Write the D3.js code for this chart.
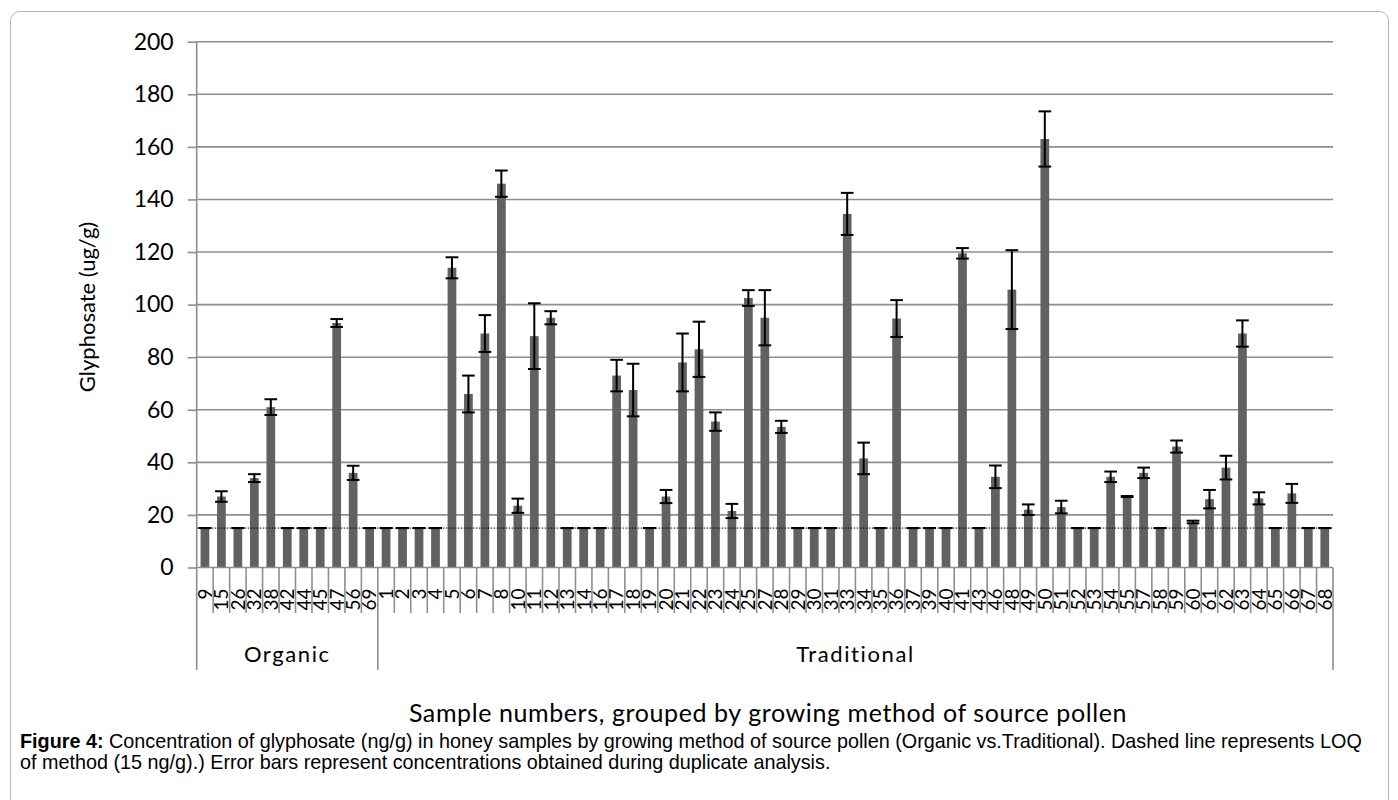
<!DOCTYPE html>
<html><head><meta charset="utf-8">
<script src="https://cdn.jsdelivr.net/npm/d3@7"></script>
<style>body{margin:0;background:#fff}</style>
</head><body>
<svg id="c" width="1398" height="800"></svg>
<script>
// ---- data ----
const groupNames = ["Organic", "Traditional"];
const organicSamples = ["9","15","26","32","38","42","44","45","47","56","69"];
const organicValues  = [15, 27, 15, 34, 61, 15, 15, 15, 93, 36, 15];
const organicErrors  = [0, 2, 0, 1.5, 3, 0, 0, 0, 1.5, 2.7, 0];
const traditionalSamples = ["1","2","3","4","5","6","7","8","10","11","12","13","14","16","17","18","19","20","21","22","23","24","25","27","28","29","30","31","33","34","35","36","37","39","40","41","43","46","48","49","50","51","52","53","54","55","57","58","59","60","61","62","63","64","65","66","67","68"];
const traditionalValues = [15,15,15,15,114,66,89,146,23.5,88,95,15,15,15,73,67.5,15,27,78,83,55.5,21.5,102.5,95,53.5,15,15,15,134.5,41.5,15,94.7,15,15,15,119.5,15,34.5,105.7,22,163,23,15,15,34.5,27,36,15,46,17.3,26,38,89,26.3,15,28.2,15,15];
const traditionalErrors = [0,0,0,0,4,7,7,5,2.7,12.5,2.5,0,0,0,6,10,0,2.5,11,10.5,3.5,2.7,3,10.5,2.3,0,0,0,8,6,0,7,0,0,0,2,0,4.3,15,2,10.5,2.4,0,0,2,0.2,2,0,2.3,0.5,3.5,4.5,5,2.3,0,3.6,0,0];
const yTicks = [0,20,40,60,80,100,120,140,160,180,200];
const loq = 15;
const yTitle = "Glyphosate (ug/g)";
const xTitle = "Sample numbers, grouped by growing method of source pollen";
const captionBold = "Figure 4:";
const captionLine1 = " Concentration of glyphosate (ng/g) in honey samples by growing method of source pollen (Organic vs.Traditional). Dashed line represents LOQ";
const captionLine2 = "of method (15 ng/g).) Error bars represent concentrations obtained during duplicate analysis.";

// ---- build table ----
const groups = [
  {name: groupNames[0], samples: organicSamples, values: organicValues, errors: organicErrors},
  {name: groupNames[1], samples: traditionalSamples, values: traditionalValues, errors: traditionalErrors}
];
const rows = [];
groups.forEach(g => g.samples.forEach((s, i) => rows.push({key: g.name + "-" + s, label: s, group: g.name, value: g.values[i], err: g.errors[i]})));

const svg = d3.select("#c");
const pLeft = 196.7, pRight = 1333, pTop = 41.7, pBottom = 567.5;
const font = "Lato, 'Open Sans', sans-serif";
const grid = "#8e8e8e";

// frame
svg.append("rect").attr("x", 10.5).attr("y", 11.5).attr("width", 1378).attr("height", 820)
  .attr("rx", 9).attr("fill", "none").attr("stroke", "#b4b4b4").attr("stroke-width", 1);

const x = d3.scaleBand().domain(rows.map(d => d.key)).range([pLeft, pRight]).paddingInner(0.47).paddingOuter(0.235);
const y = d3.scaleLinear().domain([0, 200]).range([pBottom, pTop]);

// gridlines
svg.append("g").selectAll("line").data(yTicks.filter(t => t > 0)).join("line")
  .attr("x1", pLeft).attr("x2", pRight).attr("y1", d => y(d)).attr("y2", d => y(d))
  .attr("stroke", grid).attr("stroke-width", 1.6);

// y axis
const yAxis = svg.append("g").attr("transform", `translate(${pLeft},0)`)
  .call(d3.axisLeft(y).tickValues(yTicks).tickSize(9).tickPadding(14));
yAxis.select(".domain").remove();
yAxis.selectAll(".tick line").attr("stroke", grid).attr("stroke-width", 1.6);
yAxis.selectAll(".tick text").attr("font-family", font).attr("font-size", 23).attr("fill", "#000");

// bars
svg.append("g").selectAll("rect").data(rows).join("rect")
  .attr("x", d => x(d.key)).attr("width", x.bandwidth())
  .attr("y", d => y(d.value)).attr("height", d => y(0) - y(d.value))
  .attr("fill", "#616161");

// LOQ dotted line
svg.append("line").attr("x1", pLeft).attr("x2", pRight).attr("y1", y(loq)).attr("y2", y(loq))
  .attr("stroke", "#000").attr("stroke-width", 1).attr("stroke-dasharray", "1.5,1.5");

// error bars
const eb = svg.append("g").attr("stroke", "#000").attr("stroke-width", 2);
const capW = 12.7;
rows.forEach(d => {
  const cx = x(d.key) + x.bandwidth() / 2;
  const y1 = y(d.value + d.err), y2 = y(d.value - d.err);
  if (d.err > 0) eb.append("line").attr("x1", cx).attr("x2", cx).attr("y1", y1).attr("y2", y2);
  eb.append("line").attr("x1", cx - capW / 2).attr("x2", cx + capW / 2).attr("y1", y1).attr("y2", y1);
  eb.append("line").attr("x1", cx - capW / 2).attr("x2", cx + capW / 2).attr("y1", y2).attr("y2", y2);
});

// x axis labels
const xAxis = svg.append("g").attr("transform", `translate(0,${pBottom})`)
  .call(d3.axisBottom(x).tickSize(0).tickFormat(k => rows.find(r => r.key === k).label));
xAxis.select(".domain").remove();
xAxis.selectAll(".tick text")
  .attr("font-family", font).attr("font-size", 19).attr("fill", "#000")
  .attr("text-anchor", "end").attr("transform", "translate(0,21) rotate(-90)")
  .attr("x", 0).attr("y", 0).attr("dy", "0.36em");

// baseline axis line
svg.append("line").attr("x1", pLeft).attr("x2", pRight).attr("y1", pBottom).attr("y2", pBottom)
  .attr("stroke", grid).attr("stroke-width", 1.6);
// left axis line
svg.append("line").attr("x1", pLeft).attr("x2", pLeft).attr("y1", pTop).attr("y2", 670)
  .attr("stroke", grid).attr("stroke-width", 1.6);

// category separators
const step = x.step();
const idx = d3.range(1, rows.length);
const groupBounds = [];
let acc = 0;
groups.forEach(g => { acc += g.samples.length; groupBounds.push(acc); });
svg.append("g").selectAll("line").data(idx.filter(i => !groupBounds.includes(i))).join("line")
  .attr("x1", i => pLeft + i * step).attr("x2", i => pLeft + i * step)
  .attr("y1", pBottom).attr("y2", 613)
  .attr("stroke", grid).attr("stroke-width", 1.6);
svg.append("g").selectAll("line").data(groupBounds).join("line")
  .attr("x1", i => pLeft + i * step).attr("x2", i => pLeft + i * step)
  .attr("y1", pBottom).attr("y2", 670)
  .attr("stroke", grid).attr("stroke-width", 1.6);

// group labels
let start = 0;
groups.forEach(g => {
  const end = start + g.samples.length;
  svg.append("text").attr("x", pLeft + (start + end) / 2 * step).attr("y", 662)
    .attr("text-anchor", "middle").attr("font-family", font).attr("font-size", 22)
    .attr("letter-spacing", 1.6).text(g.name);
  start = end;
});

// axis titles
svg.append("text").attr("transform", "translate(95,307) rotate(-90)")
  .attr("text-anchor", "middle").attr("font-family", font).attr("font-size", 22).text(yTitle);
svg.append("text").attr("x", 768).attr("y", 722).attr("text-anchor", "middle")
  .attr("font-family", font).attr("font-size", 25).attr("letter-spacing", 0.6).text(xTitle);

// caption
const capFont = "'Liberation Sans', Arial, sans-serif";
const cap = svg.append("text").attr("x", 20).attr("y", 748)
  .attr("font-family", capFont).attr("font-size", 19.8);
cap.append("tspan").attr("font-weight", "bold").text(captionBold);
cap.append("tspan").text(captionLine1);
svg.append("text").attr("x", 20).attr("y", 769)
  .attr("font-family", capFont).attr("font-size", 19.8).text(captionLine2);
</script>
</body></html>
